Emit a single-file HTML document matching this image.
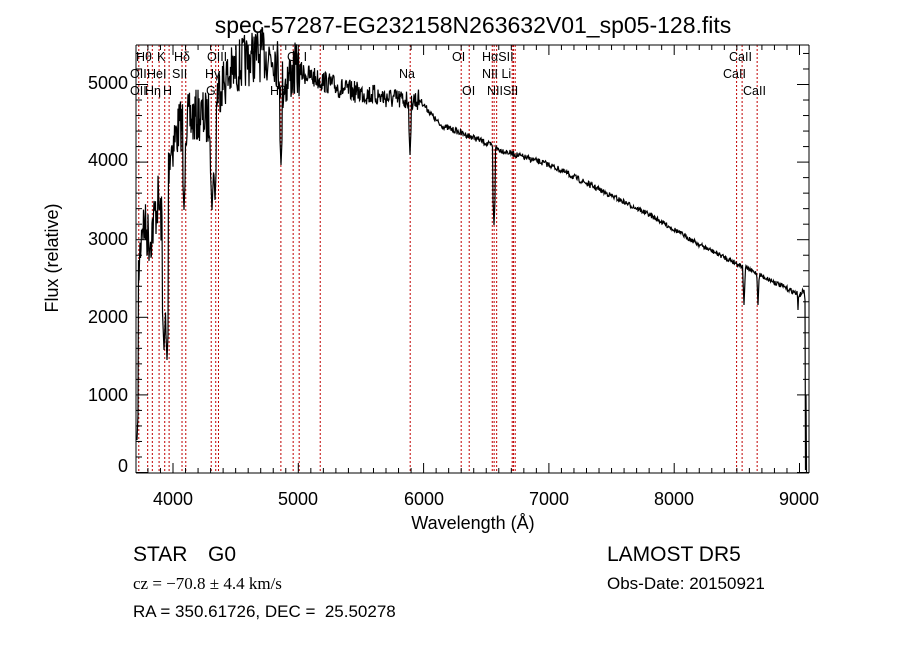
<!DOCTYPE html>
<html><head><meta charset="utf-8"><style>
body{margin:0;background:#fff;}
svg{display:block;font-family:"Liberation Sans",sans-serif;}
</style></head><body>
<svg id="s" width="900" height="649" xmlns="http://www.w3.org/2000/svg">
<rect width="900" height="649" fill="#fff"/>
<text x="473" y="33" font-size="23" text-anchor="middle">spec-57287-EG232158N263632V01_sp05-128.fits</text>
<g id="red" stroke="#c00000" stroke-width="1" stroke-dasharray="2,2"></g>
<g id="ax" stroke="#000" stroke-width="1" fill="none"></g>
<polyline id="sp" fill="none" stroke="#000" stroke-width="1.2"/>
<g font-size="12.5" fill="#000">
<text x="136" y="61">Hθ</text><text x="157" y="61">K</text><text x="174" y="61">Hδ</text><text x="207" y="61">OIII</text><text x="287" y="61">OI I</text>
<text x="452" y="61">OI</text><text x="482" y="61">HαSII</text><text x="729" y="61">CaII</text>
<text x="130" y="78">OII</text><text x="147" y="78">HeI</text><text x="172" y="78">SII</text><text x="205" y="78">Hγ</text>
<text x="399" y="78">Na</text><text x="482" y="78">NII Li</text><text x="723" y="78">CaII</text>
<text x="130" y="95">OII</text><text x="145" y="95">Hη</text><text x="163" y="95">H</text><text x="206" y="95">G</text><text x="270" y="95">Hβ</text>
<text x="462" y="95">OI</text><text x="487" y="95">NIISII</text><text x="743" y="95">CaII</text>
</g>
<g font-size="18" text-anchor="end">
<text x="128" y="472">0</text><text x="128" y="401">1000</text><text x="128" y="323">2000</text><text x="128" y="245">3000</text><text x="128" y="166">4000</text><text x="128" y="89">5000</text>
</g>
<g font-size="18" text-anchor="middle">
<text x="173" y="505">4000</text><text x="298" y="505">5000</text><text x="424" y="505">6000</text><text x="549" y="505">7000</text><text x="674" y="505">8000</text><text x="799" y="505">9000</text>
<text x="473" y="529">Wavelength (Å)</text>
</g>
<text transform="translate(58,258) rotate(-90)" font-size="18" text-anchor="middle">Flux (relative)</text>
<text x="133" y="561" font-size="21">STAR</text><text x="208" y="561" font-size="21">G0</text>
<text x="607" y="561" font-size="21">LAMOST DR5</text>
<text x="133" y="589" font-size="17" font-family="Liberation Serif,serif">cz = −70.8 ± 4.4 km/s</text>
<text x="607" y="589" font-size="17">Obs-Date: 20150921</text>
<text x="133" y="617" font-size="17" xml:space="preserve">RA = 350.61726, DEC =  25.50278</text>
</svg>
<script>
var NS="http://www.w3.org/2000/svg";
function X(l){return 173+(l-4000)*0.1253;}
var L=45,R=809,T=45,B=473;
var ax=document.getElementById('ax');
function ln(g,x1,y1,x2,y2){var e=document.createElementNS(NS,'line');e.setAttribute('x1',x1);e.setAttribute('y1',y1);e.setAttribute('x2',x2);e.setAttribute('y2',y2);g.appendChild(e);}
var red=document.getElementById('red');
[3727,3798,3835,3889,3934,3969,4072,4102,4305,4341,4363,4861,4959,5007,5175,5893,6300,6364,6548,6563,6583,6707,6717,6731,8498,8542,8662].forEach(function(l){var x=X(l);ln(red,x,T,x,B);});
ln(ax,136,T,R,T);ln(ax,R,T,R,B);ln(ax,136,B,R,B);ln(ax,136,T,136,B);
for(var l=3800;l<=9000;l+=100){var x=X(l),m=(l%1000==0)?10:5;ln(ax,x,B,x,B-m);ln(ax,x,T,x,T+m);}
for(var f=0;f<=5400;f+=200){var y=472.5-0.0776*f,m=(f%1000==0)?12:6;ln(ax,136,y,136+m,y);ln(ax,R,y,R-m,y);}
var K=[[137,300],[142,220],[150,240],[158,200],[163,230],[170,150],[180,125],[200,115],[208,120],[220,85],[240,65],[255,55],[275,55],[283,85],[295,70],[320,80],[345,90],[400,100],[420,100],[440,125],[480,140],[500,150],[550,165],[600,190],[650,215],[700,245],[740,265],[770,280],[800,295],[804,290]];
var D=[[137,440,1],[164,350,1.5],[167,360,1],[184,210,1],[212,210,1.5],[215,200,1],[281,165,1],[410,155,1],[494,225,1],[744,305,1],[758,305,1],[798,310,1.5]];
var seed=7;function rnd(){seed=(seed*16807)%2147483647;return seed/2147483647;}
function base(x){for(var i=0;i<K.length-1;i++){if(x>=K[i][0]&&x<=K[i+1][0]){var t=(x-K[i][0])/(K[i+1][0]-K[i][0]);return K[i][1]+t*(K[i+1][1]-K[i][1]);}}return 295;}
var pts=[];
for(var x=137;x<=804;x+=0.5){var amp=x<300?55:(x<420?22:(x<600?6:5));var y=base(x)+(rnd()-0.5)*amp;
D.forEach(function(d){if(Math.abs(x-d[0])<=d[2]){y=Math.max(y,d[1]-Math.abs(x-d[0])*25);}});
pts.push(x.toFixed(1)+','+y.toFixed(1));}
pts.push('805,300','805.5,470','806,395','806.5,472');
document.getElementById('sp').setAttribute('points',pts.join(' '));
</script>
</body></html>
